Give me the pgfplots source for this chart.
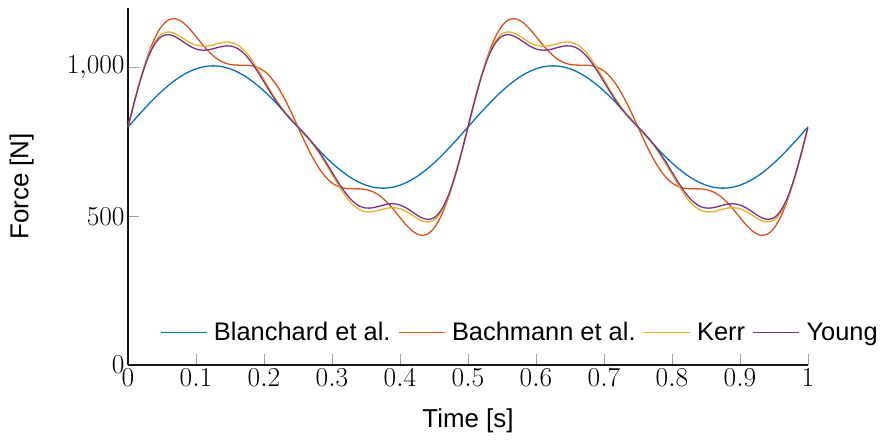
\RequirePackage{fix-cm}
\documentclass[border=0pt]{standalone}
\usepackage{fontspec}
\setmainfont{Liberation Sans}
\usepackage{pgfplots}
\usepackage{pgfplotstable}
\pgfplotsset{compat=1.18}
\definecolor{cA}{rgb}{0,0.447,0.741}
\definecolor{cB}{rgb}{0.850,0.325,0.098}
\definecolor{cC}{rgb}{0.929,0.694,0.125}
\definecolor{cD}{rgb}{0.494,0.184,0.556}
\pgfplotstableread{
t L B K Y
0.00 800.0 800.0 800.0 800.0
0.01 825.8 889.5 891.5 889.8
0.02 851.1 972.9 974.2 970.9
0.03 875.7 1045.0 1041.0 1036.1
0.04 899.1 1101.6 1087.5 1081.1
0.05 920.9 1140.3 1112.9 1105.1
0.06 940.7 1160.5 1119.7 1110.6
0.07 958.4 1163.7 1113.1 1102.9
0.08 973.6 1152.6 1099.5 1088.3
0.09 986.0 1131.3 1085.2 1073.1
0.10 995.5 1104.3 1074.9 1062.3
0.11 1002.0 1076.2 1071.1 1058.0
0.12 1005.2 1050.8 1073.4 1060.1
0.13 1005.2 1030.8 1079.2 1066.0
0.14 1002.0 1017.3 1084.6 1071.5
0.15 995.5 1010.3 1085.2 1072.5
0.16 986.0 1008.0 1077.5 1065.4
0.17 973.6 1007.8 1059.8 1048.6
0.18 958.4 1006.5 1032.6 1022.3
0.19 940.7 1000.9 997.9 988.8
0.20 920.9 988.1 959.4 951.6
0.21 899.1 966.5 920.6 914.2
0.22 875.7 935.4 884.5 879.6
0.23 851.1 895.8 852.7 849.4
0.24 825.8 849.7 825.1 823.4
0.25 800.0 800.0 800.0 800.0
0.26 774.2 750.3 774.9 776.6
0.27 748.9 704.2 747.3 750.6
0.28 724.3 664.6 715.5 720.4
0.29 700.9 633.6 679.4 685.8
0.30 679.1 611.9 640.6 648.4
0.31 659.3 599.1 602.1 611.2
0.32 641.6 593.5 567.5 577.7
0.33 626.4 592.2 540.2 551.4
0.34 614.0 592.0 522.5 534.6
0.35 604.5 589.7 514.9 527.5
0.36 598.0 582.7 515.4 528.5
0.37 594.8 569.2 520.8 534.0
0.38 594.8 549.2 526.6 539.9
0.39 598.0 523.8 528.9 542.0
0.40 604.5 495.7 525.1 537.7
0.41 614.0 468.7 514.8 526.9
0.42 626.4 447.4 500.5 511.7
0.43 641.6 436.3 486.9 497.1
0.44 659.3 439.5 480.3 489.4
0.45 679.1 459.8 487.1 494.9
0.46 700.9 498.5 512.5 518.9
0.47 724.3 555.1 559.0 563.9
0.48 748.9 627.1 625.8 629.1
0.49 774.2 710.5 708.5 710.2
0.50 800.0 800.0 800.0 800.0
0.51 825.8 889.5 891.5 889.8
0.52 851.1 972.9 974.2 970.9
0.53 875.7 1045.0 1041.0 1036.1
0.54 899.1 1101.6 1087.5 1081.1
0.55 920.9 1140.3 1112.9 1105.1
0.56 940.7 1160.5 1119.7 1110.6
0.57 958.4 1163.7 1113.1 1102.9
0.58 973.6 1152.6 1099.5 1088.3
0.59 986.0 1131.3 1085.2 1073.1
0.60 995.5 1104.3 1074.9 1062.3
0.61 1002.0 1076.2 1071.1 1058.0
0.62 1005.2 1050.8 1073.4 1060.1
0.63 1005.2 1030.8 1079.2 1066.0
0.64 1002.0 1017.3 1084.6 1071.5
0.65 995.5 1010.3 1085.2 1072.5
0.66 986.0 1008.0 1077.5 1065.4
0.67 973.6 1007.8 1059.8 1048.6
0.68 958.4 1006.5 1032.6 1022.3
0.69 940.7 1000.9 997.9 988.8
0.70 920.9 988.1 959.4 951.6
0.71 899.1 966.5 920.6 914.2
0.72 875.7 935.4 884.5 879.6
0.73 851.1 895.8 852.7 849.4
0.74 825.8 849.7 825.1 823.4
0.75 800.0 800.0 800.0 800.0
0.76 774.2 750.3 774.9 776.6
0.77 748.9 704.2 747.3 750.6
0.78 724.3 664.6 715.5 720.4
0.79 700.9 633.6 679.4 685.8
0.80 679.1 611.9 640.6 648.4
0.81 659.3 599.1 602.1 611.2
0.82 641.6 593.5 567.5 577.7
0.83 626.4 592.2 540.2 551.4
0.84 614.0 592.0 522.5 534.6
0.85 604.5 589.7 514.9 527.5
0.86 598.0 582.7 515.4 528.5
0.87 594.8 569.2 520.8 534.0
0.88 594.8 549.2 526.6 539.9
0.89 598.0 523.8 528.9 542.0
0.90 604.5 495.7 525.1 537.7
0.91 614.0 468.7 514.8 526.9
0.92 626.4 447.4 500.5 511.7
0.93 641.6 436.3 486.9 497.1
0.94 659.3 439.5 480.3 489.4
0.95 679.1 459.8 487.1 494.9
0.96 700.9 498.5 512.5 518.9
0.97 724.3 555.1 559.0 563.9
0.98 748.9 627.1 625.8 629.1
0.99 774.2 710.5 708.5 710.2
1.00 800.0 800.0 800.0 800.0
}\data
\begin{document}
\begin{tikzpicture}
\useasboundingbox (-128bp,-76bp) rectangle (754bp,365bp);
\begin{axis}[
  at={(0,0)}, anchor=south west,
  scale only axis, width=680bp, height=357bp,
  xmin=0, xmax=1, ymin=0, ymax=1200,
  axis lines=left,
  axis line style={-, line width=1.2bp, color=black!90},
  tick align=inside,
  major tick length=11bp,
  tick style={color=gray!75, line width=0.8bp},
  xtick={0,0.1,0.2,0.3,0.4,0.5,0.6,0.7,0.8,0.9,1},
  ytick={0,500,1000},
  /pgf/number format/1000 sep={\mathord{,}},
  tick label style={font=\fontsize{27.5}{30}\selectfont},
  xlabel={Time [s]},
  ylabel={Force [N]},
  label style={font=\fontsize{26}{28}\selectfont},
  xlabel style={at={(axis description cs:0.5,-0.1737)}, anchor=base, inner sep=0pt},
  ylabel style={at={(axis description cs:-0.1382,0.5)}, anchor=south, inner sep=0pt},
  legend columns=4,
  legend style={draw=none, fill=none, at={(axis description cs:1.108,0.091)}, anchor=east,
    inner sep=0pt, font=\fontsize{25.5}{28}\selectfont,
    nodes={inner xsep=3.5bp, inner ysep=1bp},
    /tikz/every odd column/.append style={column sep=3bp},
    /tikz/every even column/.append style={column sep=4bp}},
  legend image code/.code={\draw[#1, line width=1.5bp] (0bp,0bp) -- (46bp,0bp);},
  every axis plot/.append style={line width=1.3bp, no markers, smooth},
]
\addplot[color=cA] table[x=t,y=L] {\data};
\addlegendentry{Blanchard et al.}
\addplot[color=cB] table[x=t,y=B] {\data};
\addlegendentry{Bachmann et al.}
\addplot[color=cC] table[x=t,y=K] {\data};
\addlegendentry{Kerr}
\addplot[color=cD] table[x=t,y=Y] {\data};
\addlegendentry{Young}
\end{axis}
\end{tikzpicture}
\end{document}
